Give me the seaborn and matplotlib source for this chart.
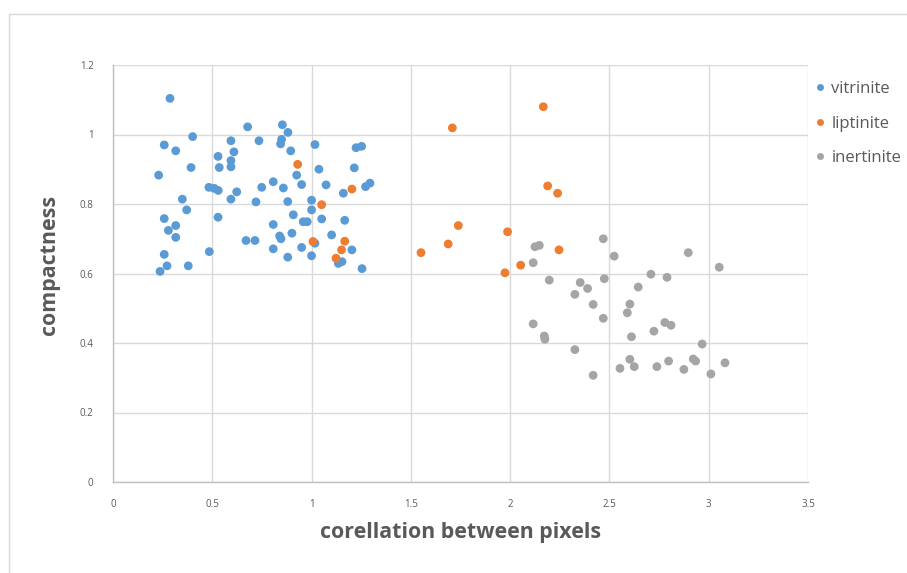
import matplotlib
matplotlib.use("Agg")
import matplotlib.pyplot as plt
from matplotlib.lines import Line2D
import seaborn as sns
import pandas as pd

vitrinite_x = [0.287, 0.678, 0.401, 0.258, 0.316, 0.594, 0.735, 0.609, 0.529, 0.594,
               0.594, 0.535, 0.393, 0.230, 0.483, 0.510, 0.530, 0.623, 0.749, 0.594,
               0.720, 0.349, 0.371, 0.529, 0.258, 0.316, 0.279, 0.316, 0.670, 0.715,
               0.485, 0.258, 0.272, 0.379, 0.237,
               0.853, 0.881, 0.849, 0.844, 0.895, 1.017, 1.224, 1.252, 0.925, 1.037,
               1.215, 0.807, 0.858, 0.950, 1.073, 1.160, 1.272, 1.294, 0.880, 1.000,
               1.000, 0.908, 0.958, 0.978, 1.051, 1.167, 0.807, 0.901, 0.839, 0.846,
               1.101, 0.807, 0.950, 1.017, 1.203, 0.880, 1.000, 1.135, 1.153, 1.254]
vitrinite_y = [1.104, 1.022, 0.994, 0.970, 0.953, 0.982, 0.982, 0.950, 0.937, 0.925,
               0.907, 0.905, 0.905, 0.883, 0.848, 0.845, 0.839, 0.835, 0.848, 0.814,
               0.806, 0.814, 0.783, 0.762, 0.758, 0.738, 0.724, 0.704, 0.695, 0.695,
               0.663, 0.655, 0.622, 0.622, 0.606,
               1.028, 1.006, 0.986, 0.973, 0.953, 0.971, 0.962, 0.966, 0.883, 0.900,
               0.904, 0.864, 0.846, 0.856, 0.855, 0.831, 0.850, 0.860, 0.807, 0.811,
               0.783, 0.769, 0.749, 0.749, 0.757, 0.753, 0.741, 0.716, 0.708, 0.700,
               0.711, 0.671, 0.675, 0.687, 0.668, 0.647, 0.651, 0.629, 0.634, 0.614]

liptinite_x = [0.930, 1.203, 1.051, 1.007, 1.167, 1.151, 1.123,
               2.167, 1.709, 2.189, 2.239, 1.739, 1.987, 1.688, 2.246, 1.551, 2.053, 1.974]
liptinite_y = [0.914, 0.843, 0.798, 0.692, 0.693, 0.668, 0.644,
               1.080, 1.019, 0.852, 0.831, 0.738, 0.720, 0.685, 0.668, 0.660, 0.624, 0.602]

inertinite_x = [2.125, 2.147, 2.116, 2.197, 2.469, 2.524, 2.353, 2.390, 2.326, 2.474,
                2.418, 2.469, 2.116, 2.172, 2.175, 2.326, 2.418, 2.645, 2.603, 2.590,
                2.611, 2.603, 2.625, 2.553, 2.897, 3.053, 2.709, 2.790, 2.779, 2.810,
                2.724, 2.967, 2.739, 2.798, 2.922, 2.934, 2.875, 3.011, 3.082]
inertinite_y = [0.677, 0.681, 0.631, 0.581, 0.700, 0.650, 0.574, 0.557, 0.540, 0.585,
                0.511, 0.471, 0.455, 0.420, 0.411, 0.381, 0.307, 0.561, 0.512, 0.487,
                0.418, 0.353, 0.332, 0.327, 0.660, 0.618, 0.598, 0.589, 0.459, 0.451,
                0.434, 0.397, 0.332, 0.348, 0.354, 0.348, 0.324, 0.311, 0.343]

series_names = ["vitrinite", "liptinite", "inertinite"]
x_ticks = [0, 0.5, 1, 1.5, 2, 2.5, 3, 3.5]
x_tick_labels = ["0", "0.5", "1", "1.5", "2", "2.5", "3", "3.5"]
y_ticks = [0, 0.2, 0.4, 0.6, 0.8, 1, 1.2]
y_tick_labels = ["0", "0.2", "0.4", "0.6", "0.8", "1", "1.2"]

df = pd.concat([
    pd.DataFrame({"x": vitrinite_x, "y": vitrinite_y, "type": series_names[0]}),
    pd.DataFrame({"x": liptinite_x, "y": liptinite_y, "type": series_names[1]}),
    pd.DataFrame({"x": inertinite_x, "y": inertinite_y, "type": series_names[2]}),
], ignore_index=True)

sns.set_theme(style="white")
plt.rcParams["font.family"] = ["Open Sans", "DejaVu Sans"]

text_col = "#595959"
grid_col = "#D9D9D9"

fig = plt.figure(figsize=(9.07, 5.73), dpi=100)
ax = fig.add_axes([113 / 907, 1 - 482 / 573, (808 - 113) / 907, (482 - 65) / 573])

palette = {"vitrinite": "#5B9BD5", "liptinite": "#ED7D31", "inertinite": "#A5A5A5"}
sns.scatterplot(data=df, x="x", y="y", hue="type", palette=palette, ax=ax,
                s=40, linewidth=0, edgecolor="none", legend=False, zorder=3)

ax.set_xlim(0, 3.5)
ax.set_ylim(0, 1.2)
ax.set_xticks(x_ticks)
ax.set_xticklabels(x_tick_labels)
ax.set_yticks(y_ticks)
ax.set_yticklabels(y_tick_labels)
ax.grid(True, color=grid_col, linewidth=1.0, zorder=0)
ax.set_axisbelow(True)
for s in ["top", "right"]:
    ax.spines[s].set_visible(False)
for s in ["left", "bottom"]:
    ax.spines[s].set_color("#BFBFBF")
    ax.spines[s].set_linewidth(1.0)
ax.tick_params(axis="both", length=0, labelsize=7, colors=text_col)
ax.tick_params(axis="x", pad=12)
ax.tick_params(axis="y", pad=14)

ax.set_xlabel("corellation between pixels", fontsize=15.4, fontweight="bold",
              color=text_col, labelpad=9)
ax.set_ylabel("compactness", fontsize=15.4, fontweight="bold",
              color=text_col, labelpad=14)
ax.yaxis.label.set_y(0.52)

handles = [Line2D([0], [0], marker="o", linestyle="none", markersize=5,
                  markerfacecolor=palette[n], markeredgecolor="none") for n in series_names]
fig.legend(handles, series_names, loc="upper left", bbox_to_anchor=(808 / 907, 1 - 78 / 573),
           frameon=False, fontsize=12, labelcolor=text_col, handletextpad=0.2,
           handlelength=1.0, labelspacing=1.1, borderaxespad=0, borderpad=0.2)

# outer chart frame (partially visible)
fig.add_artist(Line2D([9 / 907, 1], [1 - 14 / 573, 1 - 14 / 573], transform=fig.transFigure,
                      color=grid_col, linewidth=1))
fig.add_artist(Line2D([9 / 907, 9 / 907], [0, 1 - 14 / 573], transform=fig.transFigure,
                      color=grid_col, linewidth=1))

fig.savefig("out.png", dpi=100)
